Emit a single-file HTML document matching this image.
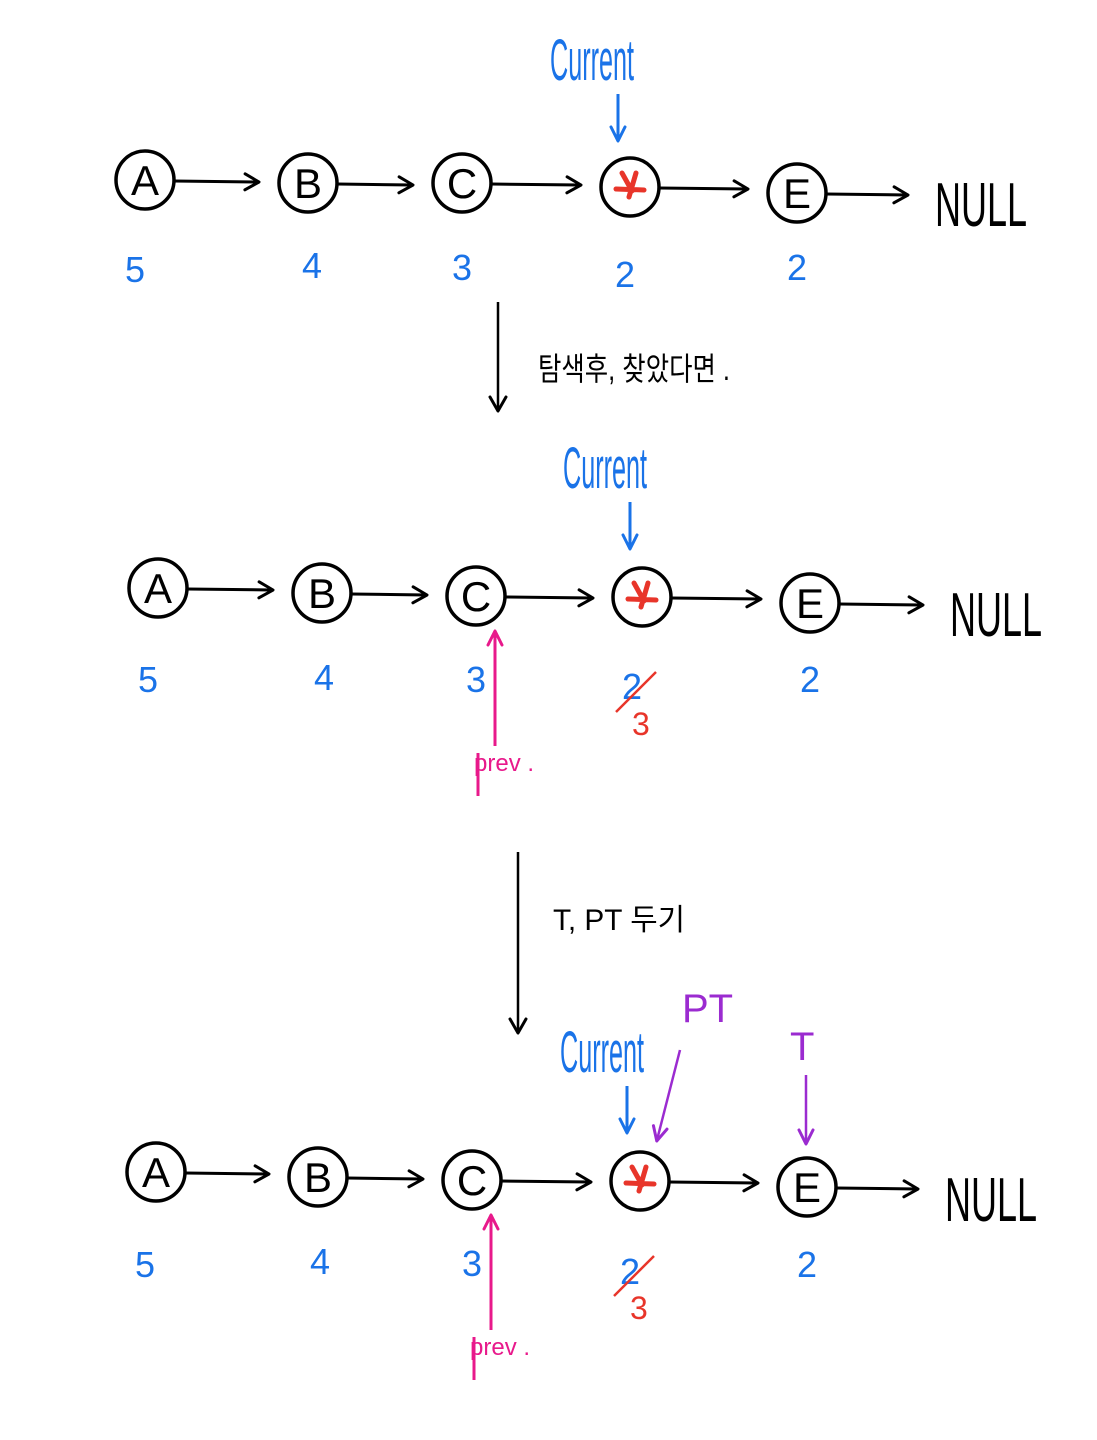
<!DOCTYPE html>
<html><head><meta charset="utf-8">
<style>
html,body{margin:0;padding:0;background:#fff;}
svg{display:block}
text{font-family:"Liberation Sans","Noto Sans CJK KR",sans-serif}
</style></head>
<body>
<svg id="s" width="1097" height="1440" viewBox="0 0 1097 1440" xmlns="http://www.w3.org/2000/svg">
<defs>
<marker id="ak" markerWidth="20" markerHeight="20" refX="15" refY="10" orient="auto" markerUnits="userSpaceOnUse"><path d="M2,2 L16,10 L2,18" fill="none" stroke="#000" stroke-width="3" stroke-linecap="round" stroke-linejoin="round"/></marker>
<marker id="ab" markerWidth="20" markerHeight="20" refX="15" refY="10" orient="auto" markerUnits="userSpaceOnUse"><path d="M2,3 L16,10 L2,17" fill="none" stroke="#1a73e8" stroke-width="3" stroke-linecap="round" stroke-linejoin="round"/></marker>
<marker id="ap" markerWidth="20" markerHeight="20" refX="15" refY="10" orient="auto" markerUnits="userSpaceOnUse"><path d="M2,3 L16,10 L2,17" fill="none" stroke="#9b2bd0" stroke-width="3" stroke-linecap="round" stroke-linejoin="round"/></marker>
<marker id="am" markerWidth="20" markerHeight="20" refX="15" refY="10" orient="auto" markerUnits="userSpaceOnUse"><path d="M2,3 L16,10 L2,17" fill="none" stroke="#e8198b" stroke-width="3" stroke-linecap="round" stroke-linejoin="round"/></marker>
</defs>
<text x="538" y="380" font-size="32" textLength="192" lengthAdjust="spacingAndGlyphs">탐색후, 찾았다면 .</text>
<text x="553" y="930" font-size="30" textLength="132" lengthAdjust="spacingAndGlyphs">T, PT 두기</text>
<line x1="498" y1="302" x2="498" y2="410" stroke="#000" stroke-width="2.5" marker-end="url(#ak)"/>
<line x1="518" y1="852" x2="518" y2="1032" stroke="#000" stroke-width="2.5" marker-end="url(#ak)"/>
</svg>
<script>
var s=document.getElementById('s'),ns='http://www.w3.org/2000/svg';
var NF='Liberation Sans Narrow, Liberation Sans, sans-serif';
function el(t,a,txt){var e=document.createElementNS(ns,t);for(var k in a)e.setAttribute(k,a[k]);if(txt)e.textContent=txt;s.appendChild(e);return e;}
function row(nodes,nullx,nully,nums,cur,mod){
 var L=['A','B','C','','E'];
 for(var i=0;i<5;i++){
  var n=nodes[i];
  el('circle',{cx:n[0],cy:n[1],r:29,fill:'none',stroke:'#000','stroke-width':3.5});
  if(i==3){el('path',{d:'M'+(n[0]-8)+','+(n[1]-14)+' L'+(n[0]+2)+','+(n[1]+4)+' M'+(n[0]+6)+','+(n[1]-14)+' L'+(n[0]-1)+','+(n[1]+10)+' M'+(n[0]-14)+','+(n[1]+2)+' L'+(n[0]+14)+','+(n[1]+3),stroke:'#e8352a','stroke-width':5,'stroke-linecap':'round',fill:'none'});}
  else el('text',{x:n[0],y:n[1]+15,'font-size':42,'text-anchor':'middle','font-family':NF},L[i]);
  var tx=i<4?nodes[i+1][0]-50:nullx-28;
  el('line',{x1:n[0]+29,y1:n[1]+1,x2:tx,y2:n[1]+2,stroke:'#000','stroke-width':3,'marker-end':'url(#ak)'});
  var num=nums[i];
  el('text',{x:num[0],y:num[1],'font-size':36,fill:'#1a73e8','text-anchor':'middle','font-family':NF},num[2]);
 }
 el('text',{x:nullx,y:nully+26,'font-size':62,'font-family':NF,textLength:92,lengthAdjust:'spacingAndGlyphs'},'NULL');
 el('text',{x:cur[0],y:cur[1],'font-size':58,fill:'#1a73e8','font-family':NF,textLength:84,lengthAdjust:'spacingAndGlyphs'},'Current');
 el('line',{x1:cur[2],y1:cur[1]+14,x2:cur[2],y2:cur[1]+60,stroke:'#1a73e8','stroke-width':3,'marker-end':'url(#ab)'});
 if(mod){
  var d=nodes[3],c=nodes[2];
  el('line',{x1:c[0]+19,y1:c[1]+150,x2:c[0]+19,y2:c[1]+36,stroke:'#e8198b','stroke-width':3,'marker-end':'url(#am)'});
  el('line',{x1:c[0]+2,y1:c[1]+157,x2:c[0]+2,y2:c[1]+200,stroke:'#e8198b','stroke-width':3});
  el('text',{x:c[0]-2,y:c[1]+175,'font-size':24,fill:'#e8198b','font-family':NF},'prev .');
  el('line',{x1:d[0]-26,y1:d[1]+115,x2:d[0]+14,y2:d[1]+75,stroke:'#e8352a','stroke-width':2.5});
  el('text',{x:d[0]-10,y:d[1]+138,'font-size':32,fill:'#e8352a','font-family':NF},'3');
 }
}
row([[145,180],[308,183],[462,183],[630,187],[797,193]],935,200,
 [[135,282,'5'],[312,278,'4'],[462,280,'3'],[625,287,'2'],[797,280,'2']],[550,80,618],false);
row([[158,588],[322,593],[476,596],[642,597],[810,603]],950,610,
 [[148,692,'5'],[324,690,'4'],[476,692,'3'],[632,699,'2'],[810,692,'2']],[563,488,630],true);
row([[156,1172],[318,1177],[472,1180],[640,1181],[807,1187]],945,1195,
 [[145,1277,'5'],[320,1274,'4'],[472,1276,'3'],[630,1284,'2'],[807,1277,'2']],[560,1072,627],true);
el('text',{x:682,y:1022,'font-size':40,fill:'#9b2bd0','font-family':NF},'PT');
el('text',{x:790,y:1060,'font-size':40,fill:'#9b2bd0','font-family':NF},'T');
el('line',{x1:680,y1:1050,x2:657,y2:1140,stroke:'#9b2bd0','stroke-width':2.5,'marker-end':'url(#ap)'});
el('line',{x1:806,y1:1075,x2:806,y2:1143,stroke:'#9b2bd0','stroke-width':2.5,'marker-end':'url(#ap)'});
</script>
</body></html>
